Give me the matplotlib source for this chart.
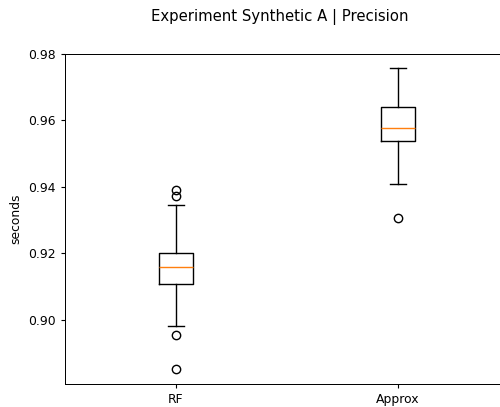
import matplotlib
matplotlib.use("Agg")
import matplotlib.pyplot as plt

# box stats
labels = ["RF", "Approx"]
whislo = [0.8982, 0.9409]
q1 = [0.9108, 0.9538]
med = [0.9159, 0.9577]
q3 = [0.9202, 0.9641]
whishi = [0.9346, 0.9758]
fliers = [[0.9391, 0.9373, 0.8955, 0.8853], [0.9307]]

stats = []
for i in range(len(labels)):
    stats.append({
        "label": labels[i],
        "whislo": whislo[i],
        "q1": q1[i],
        "med": med[i],
        "q3": q3[i],
        "whishi": whishi[i],
        "fliers": fliers[i],
    })

# the original looks rendered a bit smaller than 100 dpi, scale things down
s = 0.89
plt.rcParams["font.size"] = 10 * s
plt.rcParams["xtick.major.size"] = 3.5 * s
plt.rcParams["ytick.major.size"] = 3.5 * s
plt.rcParams["axes.linewidth"] = 0.8 * s
plt.rcParams["lines.markersize"] = 6 * s

fig = plt.figure(figsize=(5.0, 4.07), dpi=100)
ax = fig.add_axes([0.13, 0.0565, 0.888, 0.8108])
ax.bxp(stats)
ax.set_xlim(0.5, 2.5)
ax.set_ylim(0.8807, 0.98)
ax.set_yticks([0.90, 0.92, 0.94, 0.96, 0.98])
ax.set_ylabel("seconds")
fig.text(0.56, 0.958, "Experiment Synthetic A | Precision", ha="center", va="center", fontsize=12 * s)

fig.savefig("out.png", dpi=100)
